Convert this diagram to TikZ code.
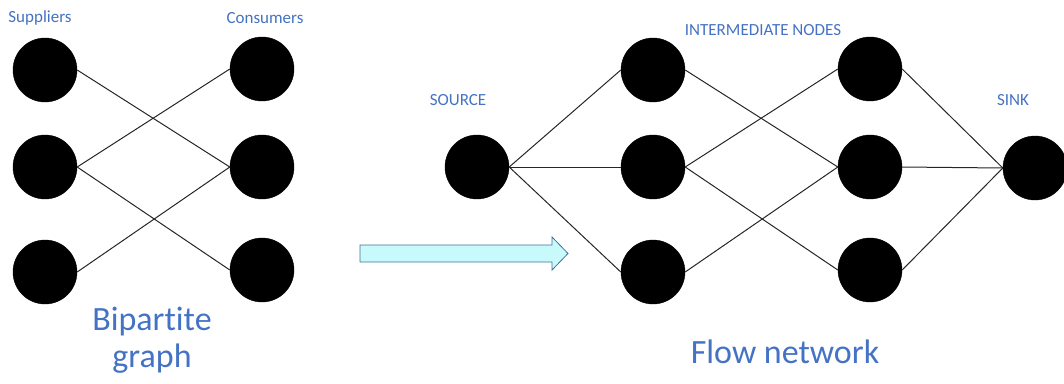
\documentclass[tikz,border=0pt]{standalone}
\usepackage{fontspec}
\setmainfont{Carlito}[Ligatures={NoCommon}]
\definecolor{lbl}{RGB}{68,114,196}
\definecolor{arrfill}{RGB}{200,250,252}
\definecolor{arrdraw}{RGB}{65,113,156}
\begin{document}
\begin{tikzpicture}[x=1pt,y=-1pt,
  vert/.style={circle,fill=black,draw=black,minimum size=64pt,inner sep=0pt},
  edge/.style={draw=black!85,line width=1pt},
  small/.style={text=lbl,font=\fontsize{17}{20}\selectfont,inner sep=0pt},
  big/.style={text=lbl,font=\fontsize{34}{38}\selectfont,inner sep=0pt}]
\useasboundingbox (0,0) rectangle (1064,383);
\clip (0,0) rectangle (1064,383);
% bipartite
\node[vert] (l1) at (45,70) {};
\node[vert] (l2) at (45,167) {};
\node[vert] (l3) at (45,272) {};
\node[vert] (r1) at (262,69) {};
\node[vert] (r2) at (262,167) {};
\node[vert] (r3) at (262,270) {};
\draw[edge] (l1.east) -- (r2.west);
\draw[edge] (l2.east) -- (r1.west);
\draw[edge] (l2.east) -- (r3.west);
\draw[edge] (l3.east) -- (r2.west);
\node[small] (tsup) at (40,18) {Suppliers};
\node[small] (tcon) at (265,18) {Consumers};
\node[big] (tbip) at (152,322) {Bipartite};
\node[big] (tgra) at (152,359) {graph};
% flow network
\node[vert] (s) at (477,167) {};
\node[vert] (a1) at (653,70) {};
\node[vert] (a2) at (653,167) {};
\node[vert] (a3) at (653,272) {};
\node[vert] (b1) at (870,69) {};
\node[vert] (b2) at (870,167) {};
\node[vert] (b3) at (870,270) {};
\node[vert] (t) at (1035,168) {};
\draw[edge] (s.east) -- (a1.west);
\draw[edge] (s.east) -- (a2.west);
\draw[edge] (s.east) -- (a3.west);
\draw[edge] (a1.east) -- (b2.west);
\draw[edge] (a2.east) -- (b1.west);
\draw[edge] (a2.east) -- (b3.west);
\draw[edge] (a3.east) -- (b2.west);
\draw[edge] (b1.east) -- (t.west);
\draw[edge] (b2.east) -- (t.west);
\draw[edge] (b3.east) -- (t.west);
\node[small] (tsrc) at (458,100) {SOURCE};
\node[small] (tint) at (763,30) {INTERMEDIATE NODES};
\node[small] (tsink) at (1013,100) {SINK};
\node[big] (tflow) at (785,352) {Flow network};
% block arrow
\draw[draw=arrdraw,fill=arrfill,line width=0.8pt,line join=miter]
  (360,245) -- (552,245) -- (552,237) -- (568,253.5) -- (552,270) -- (552,262) -- (360,262) -- cycle;
\end{tikzpicture}
\end{document}
